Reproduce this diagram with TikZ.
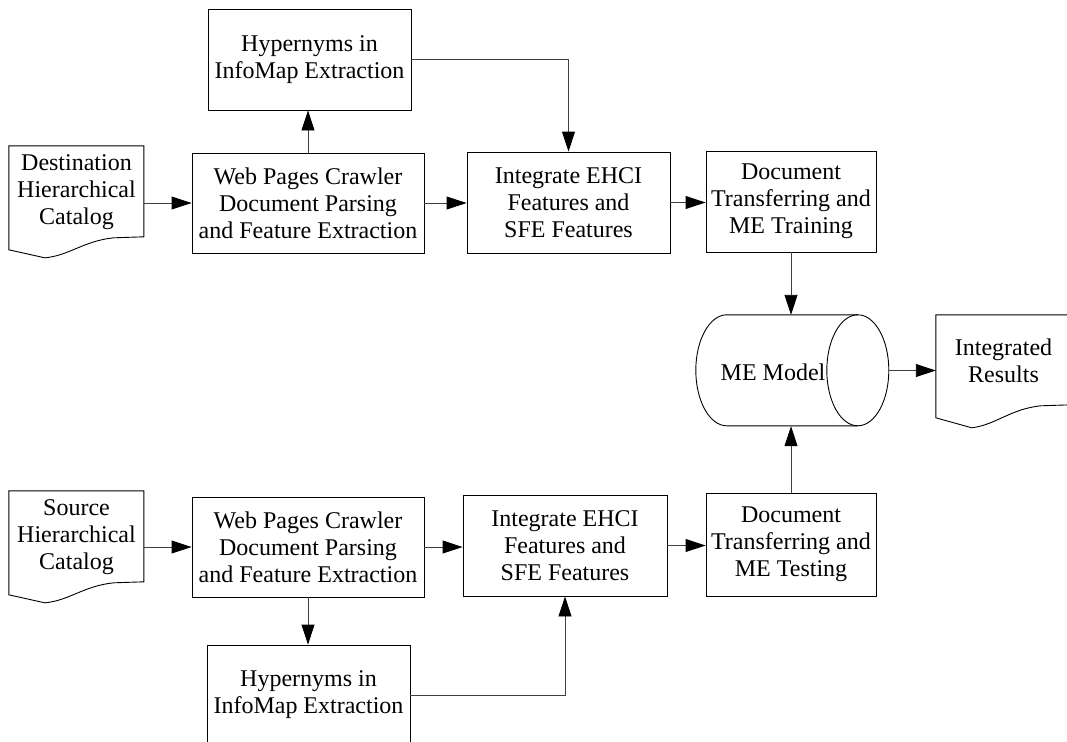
\documentclass[tikz,border=0pt]{standalone}
\usepackage{fontspec}
\setmainfont{Liberation Serif}
\usetikzlibrary{arrows.meta}
\begin{document}
\begin{tikzpicture}[x=1pt,y=-1pt,
  lbl/.style={align=center, inner sep=0pt, font=\fontsize{24}{27}\selectfont},
  stepbox/.style={lbl, draw=black, line width=0.9pt},
  area/.style={inner sep=0pt, draw=none},
  outline/.style={draw=black, line width=0.9pt},
  link/.style={draw=black!75, line width=0.9pt,
    -{Triangle[length=20pt,width=13pt,fill=black,color=black]}},
  plain/.style={draw=black!75, line width=0.9pt}]
\useasboundingbox (0,0) rectangle (1067,741);
\clip (0,0) rectangle (1067,741);

% ---- upper branch: destination catalogue ----
\node[stepbox, minimum width=203pt, minimum height=101pt] (hypA) at (309.5,59.5)
  {Hypernyms in\\InfoMap Extraction};
\node[stepbox, minimum width=232pt, minimum height=100pt] (webA) at (308,203)
  {Web Pages Crawler\\Document Parsing\\and Feature Extraction};
\node[stepbox, minimum width=203pt, minimum height=101pt] (intA) at (568.5,202.5)
  {Integrate EHCI\\Features and\\SFE Features};
\node[stepbox, minimum width=170pt, minimum height=101pt] (train) at (791,201.5)
  {Document\\Transferring and\\ME Training};

% document-shaped source files
\node[area, minimum width=135pt, minimum height=104pt] (dest) at (76.5,198) {};
\draw[outline, shift={(dest.north west)}]
  (0,104) -- (0,0) -- (135,0) -- (135,91) -- (105,92)
  .. controls (75,95) and (60,110) .. (36,112) -- cycle;
\node[lbl] (destT) at (76.5,192) {Destination\\Hierarchical\\Catalog};

% ---- lower branch: source catalogue ----
\node[area, minimum width=135pt, minimum height=104pt] (src) at (76.5,543) {};
\draw[outline, shift={(src.north west)}]
  (0,104) -- (0,0) -- (135,0) -- (135,91) -- (105,92)
  .. controls (75,95) and (60,110) .. (36,112) -- cycle;
\node[lbl] (srcT) at (76.5,537) {Source\\Hierarchical\\Catalog};

\node[stepbox, minimum width=232pt, minimum height=100pt] (webB) at (308,547)
  {Web Pages Crawler\\Document Parsing\\and Feature Extraction};
\node[stepbox, minimum width=204pt, minimum height=101pt] (intB) at (565,545.5)
  {Integrate EHCI\\Features and\\SFE Features};
\node[stepbox, minimum width=170pt, minimum height=103pt] (test) at (791,544.5)
  {Document\\Transferring and\\ME Testing};
\node[stepbox, minimum width=203pt, minimum height=100pt] (hypB) at (308.5,695)
  {Hypernyms in\\InfoMap Extraction};

% ---- model store ----
\node[area, minimum width=193pt, minimum height=111pt] (cyl) at (792.5,370.5) {};
\draw[outline, shift={(cyl.north west)}]
  (162,0) -- (31,0) arc[start angle=90, end angle=270, x radius=31, y radius=-55.5]
  -- (162,111);
\draw[outline, shift={(cyl.north west)}]
  (162,55.5) ellipse[x radius=31, y radius=55.5];
\node[lbl] (cylT) at (773,372) {ME Model};

% ---- output document ----
\node[area, minimum width=135pt, minimum height=103pt] (res) at (1003.5,366.5) {};
\draw[outline, shift={(res.north west)}]
  (0,103) -- (0,0) -- (135,0) -- (135,90) -- (105,91)
  .. controls (75,94) and (60,110) .. (36,113) -- cycle;
\node[lbl] (resT) at (1003.5,361) {Integrated\\Results};

% ---- connectors ----
\draw[link] (webA.west -| dest.east) -- (webA.west);
\draw[link] (webA.north) -- (webA.north |- hypA.south);
\draw[link] (hypA.east) -| (intA.north);
\draw[link] (webA.east) -- (webA.east -| intA.west);
\draw[link] (intA.east) -- (intA.east -| train.west);
\draw[link] (train.south) -- (train.south |- cyl.north);
\draw[link] (cyl.east) -- (cyl.east -| res.west);

\draw[link] (webB.west -| src.east) -- (webB.west);
\draw[link] (webB.east) -- (webB.east -| intB.west);
\draw[link] (intB.east) -- (intB.east -| test.west);
\draw[link] (test.north) -- (test.north |- cyl.south);
\draw[link] (webB.south) -- (webB.south |- hypB.north);
\draw[link] (hypB.east) -| (intB.south);
\end{tikzpicture}
\end{document}
